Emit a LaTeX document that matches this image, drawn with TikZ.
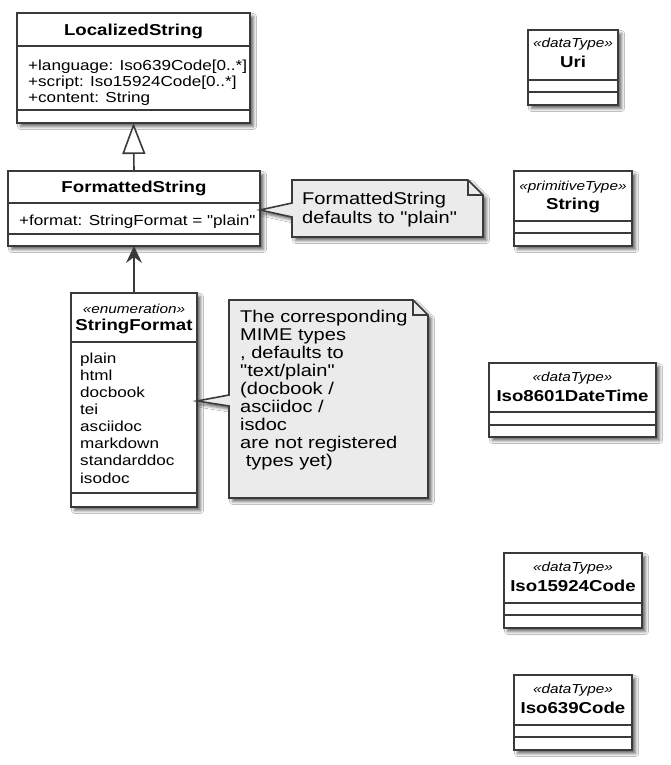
\documentclass[tikz,border=0pt]{standalone}
\usepackage{fontspec}
\setmainfont{Liberation Sans}[FakeStretch=1.18, Ligatures=TeXOff]
\usetikzlibrary{arrows.meta,shadows.blur}
\definecolor{umlline}{RGB}{58,58,58}
\definecolor{notefill}{RGB}{235,235,235}
\tikzset{
  umlshadow/.style={blur shadow={shadow xshift=3.5pt, shadow yshift=-3.5pt, shadow blur radius=3pt, shadow opacity=60}},
  umlbox/.style={draw=umlline, line width=1.6pt, fill=white, umlshadow, inner sep=0pt, outer sep=0pt, anchor=north west},
  sepline/.style={draw=umlline, line width=1.6pt},
  notebox/.style={draw=umlline, line width=1.6pt, fill=notefill, line join=miter, umlshadow},
  clsname/.style={anchor=base, inner sep=0pt, font=\fontsize{15.8}{18}\selectfont\bfseries},
  stereo/.style={anchor=base, inner sep=0pt, font=\fontsize{13}{15}\selectfont\itshape},
  attrs/.style={anchor=north west, inner sep=0pt, align=left, font=\fontsize{14.5}{16}\selectfont},
  notetext/.style={anchor=north west, inner sep=0pt, align=left, font=\fontsize{17}{18}\selectfont},
  inherit/.style={draw=umlline, line width=1.6pt, -{Triangle[length=31pt, width=23pt, fill=white]}},
  assoc/.style={draw=umlline, line width=1.6pt, -{Stealth[length=17pt, width=16pt, inset=6pt]}},
}
\begin{document}
\begin{tikzpicture}[x=1pt,y=-1pt]
\fill[white] (0,0) rectangle (671,765);
% LocalizedString:
\node[umlbox, minimum width=233pt, minimum height=110pt] (ls) at (17,13) {};
\draw[sepline] (ls.west |- 0,46) -- (ls.east |- 0,46);
\draw[sepline] (ls.west |- 0,110) -- (ls.east |- 0,110);
\node[clsname] (lsName) at (ls.north |- 0,36) {LocalizedString};
\node[attrs, font=\fontsize{14.5}{16}\selectfont] (lsAttrs) at (28,59.5) {+language: Iso639Code[0..*]\\+script: Iso15924Code[0..*]\\+content: String};
% FormattedString:
\node[umlbox, minimum width=252pt, minimum height=75pt] (fs) at (8,171) {};
\draw[sepline] (fs.west |- 0,203) -- (fs.east |- 0,203);
\draw[sepline] (fs.west |- 0,234) -- (fs.east |- 0,234);
\node[clsname] (fsName) at (fs.north |- 0,192) {FormattedString};
\node[attrs] (fsAttrs) at (19,214.5) {+format: StringFormat = "plain"};
% StringFormat:
\node[umlbox, minimum width=126pt, minimum height=214pt] (sf) at (71,293) {};
\draw[sepline] (sf.west |- 0,342) -- (sf.east |- 0,342);
\draw[sepline] (sf.west |- 0,493) -- (sf.east |- 0,493);
\node[stereo] (sfStereo) at (sf.north |- 0,313) {«enumeration»};
\node[clsname] (sfName) at (sf.north |- 0,330) {StringFormat};
\node[attrs, font=\fontsize{14.5}{17.1}\selectfont] (sfItems) at (80,352.6) {plain\\html\\docbook\\tei\\asciidoc\\markdown\\standarddoc\\isodoc};
% relations:
\draw[inherit] (fs.north) -- (ls.south);
\draw[assoc] (sf.north) -- (fs.south);
% notes:
\draw[notebox] (292,180) -- (468,180) -- (483,195) -- (483,237) -- (292,237) -- (292,217)
  -- (fs.east |- 0,210) -- (292,203) -- cycle;
\draw[sepline, line join=miter] (468,180) -- (468,195) -- (483,195);
\node[notetext, font=\fontsize{17}{19}\selectfont] (fsNote) at (302,191.8) {FormattedString\\defaults to "plain"};
\draw[notebox] (229,300) -- (413,300) -- (428,315) -- (428,498) -- (229,498) -- (229,406)
  -- (sf.east |- 0,401) -- (229,395) -- cycle;
\draw[sepline, line join=miter] (413,300) -- (413,315) -- (428,315);
\node[notetext] (sfNote) at (240,309.8) {The corresponding\\MIME types\\, defaults to\\"text/plain"\\(docbook /\\asciidoc /\\isdoc\\are not registered\\ \ types yet)};
% data types:
\node[umlbox, minimum width=90pt, minimum height=75pt] (uri) at (528,30) {};
\draw[sepline] (uri.west |- 0,80) -- (uri.east |- 0,80);
\draw[sepline] (uri.west |- 0,92) -- (uri.east |- 0,92);
\node[stereo] (uriStereo) at (uri.north |- 0,48) {«dataType»};
\node[clsname] (uriName) at (uri.north |- 0,68) {Uri};
\node[umlbox, minimum width=118pt, minimum height=75pt] (str) at (514,171) {};
\draw[sepline] (str.west |- 0,221) -- (str.east |- 0,221);
\draw[sepline] (str.west |- 0,233) -- (str.east |- 0,233);
\node[stereo] (strStereo) at (str.north |- 0,190) {«primitiveType»};
\node[clsname] (strName) at (str.north |- 0,209) {String};
\node[umlbox, minimum width=167pt, minimum height=74pt] (dt) at (489,363) {};
\draw[sepline] (dt.west |- 0,412) -- (dt.east |- 0,412);
\draw[sepline] (dt.west |- 0,425) -- (dt.east |- 0,425);
\node[stereo] (dtStereo) at (dt.north |- 0,381) {«dataType»};
\node[clsname] (dtName) at (dt.north |- 0,401) {Iso8601DateTime};
\node[umlbox, minimum width=138pt, minimum height=75pt] (scr) at (504,553) {};
\draw[sepline] (scr.west |- 0,603) -- (scr.east |- 0,603);
\draw[sepline] (scr.west |- 0,615) -- (scr.east |- 0,615);
\node[stereo] (scrStereo) at (scr.north |- 0,571) {«dataType»};
\node[clsname] (scrName) at (scr.north |- 0,591) {Iso15924Code};
\node[umlbox, minimum width=118pt, minimum height=75pt] (lang) at (514,675) {};
\draw[sepline] (lang.west |- 0,725) -- (lang.east |- 0,725);
\draw[sepline] (lang.west |- 0,737) -- (lang.east |- 0,737);
\node[stereo] (langStereo) at (lang.north |- 0,693) {«dataType»};
\node[clsname] (langName) at (lang.north |- 0,713) {Iso639Code};
\end{tikzpicture}
\end{document}
